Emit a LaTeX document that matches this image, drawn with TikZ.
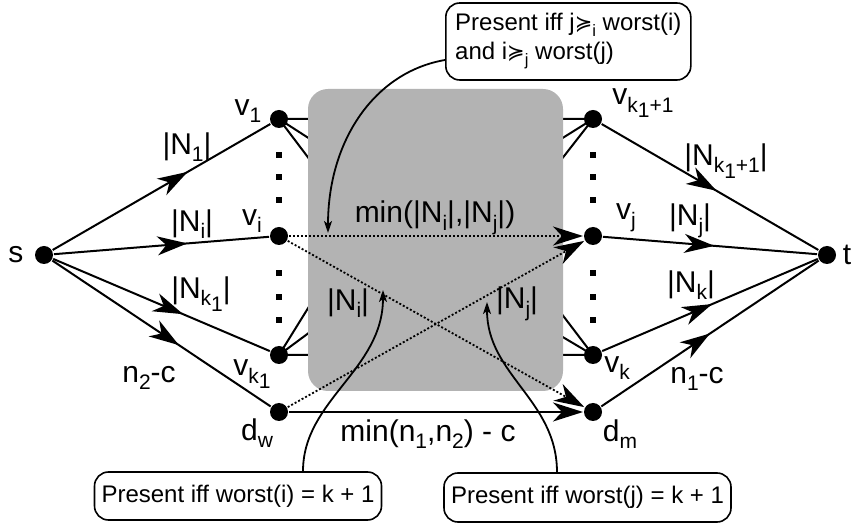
\documentclass[tikz,border=0pt]{standalone}
\usepackage{fontspec}
\setmainfont{Liberation Sans}
\newfontfamily\symfont{DejaVu Sans}
\usetikzlibrary{arrows.meta,decorations.markings}
\definecolor{boxgray}{RGB}{179,179,179}
\newcommand{\sub}[1]{\raisebox{-0.25em}{\fontsize{21}{21}\selectfont #1}}
\newcommand{\csub}[1]{\raisebox{-0.25em}{\fontsize{16.5}{16.5}\selectfont #1}}
\newcommand{\pref}{{\symfont\fontsize{21}{21}\selectfont ≽}}
\begin{document}
\begin{tikzpicture}[x=1pt,y=-1pt,line width=2pt,
  dot/.style={circle,fill=black,inner sep=0pt,minimum size=18pt},
  sq/.style={rectangle,fill=black,inner sep=0pt,minimum size=6pt},
  lbl/.style={font=\fontsize{30}{33}\selectfont,inner sep=0pt},
  call/.style={draw,rounded corners=14pt,line width=1.6pt,font=\fontsize{24}{29}\selectfont,align=left,inner xsep=7pt},
  bigtip/.style={-{Stealth[length=30pt,width=19pt,inset=9pt]}},
  dots/.style={line width=1.8pt,dash pattern=on 2pt off 2pt},
  midarrow/.style={postaction={decorate},decoration={markings,mark=at position #1 with {\arrow{Stealth[length=30pt,width=19pt,inset=9pt]}}}},
  conn/.style={line width=1.8pt,-{Stealth[length=12pt,width=8pt,inset=3pt]}}]
\useasboundingbox (0,0) rectangle (855,526);

% vertices
\node[dot] (s) at (44,255) {};
\node[dot] (v1) at (279,119) {};
\node[dot] (vi) at (279,236) {};
\node[dot] (vk1) at (279,355) {};
\node[dot] (dw) at (279,412) {};
\node[dot] (vk1p) at (593,119) {};
\node[dot] (vj) at (593,236) {};
\node[dot] (vk) at (593,355) {};
\node[dot] (dm) at (593,412) {};
\node[dot] (t) at (827,255) {};

% stubs going under the grey box
\coordinate (a1) at (310,119);
\coordinate (a2) at (310,139);
\coordinate (a3) at (310,160);
\coordinate (b1) at (310,355);
\coordinate (b2) at (310,332);
\coordinate (b3) at (310,305);
\coordinate (c1) at (561,119);
\coordinate (c2) at (561,139);
\coordinate (c3) at (561,160);
\coordinate (e1) at (561,355);
\coordinate (e2) at (561,336);
\coordinate (e3) at (561,313);
\draw (v1.center) -- (a1) (v1.center) -- (a2) (v1.center) -- (a3);
\draw (vk1.center) -- (b1) (vk1.center) -- (b2) (vk1.center) -- (b3);
\draw (vk1p.center) -- (c1) (vk1p.center) -- (c2) (vk1p.center) -- (c3);
\draw (vk.center) -- (e1) (vk.center) -- (e2) (vk.center) -- (e3);

% grey box
\node[fill=boxgray,rounded corners=20pt,minimum width=255pt,minimum height=302pt,inner sep=0pt] (box) at (435.5,240) {};

% vertical dots
\foreach \yy [count=\n] in {155,177,200,273,297,320}{
  \node[sq] (l\n) at (279,\yy) {};
  \node[sq] (r\n) at (593,\yy) {};
}

% edges from s and to t
\draw[midarrow=0.62] (s) -- (v1);
\draw[midarrow=0.62] (s) -- (vi);
\draw[midarrow=0.6] (s) -- (vk1);
\draw[midarrow=0.58] (s) -- (dw);
\draw[midarrow=0.53] (vk1p) -- (t);
\draw[midarrow=0.52] (vj) -- (t);
\draw[midarrow=0.51] (vk) -- (t);
\draw[midarrow=0.5] (dm) -- (t);

% cross edges
\draw[dots,bigtip] (vi) -- (vj);
\draw[dots,bigtip] (vi) -- (dm);
\draw[dots,bigtip] (dw) -- (vj);
\draw[bigtip] (dw) -- (dm);

% labels
\node[lbl] (ls) at (16,255) {s};
\node[lbl] (lv1) at (248,111) {v\sub{1}};
\node[lbl] (lN1) at (187,147) {|N\sub{1}|};
\node[lbl] (lNi) at (192,224) {|N\sub{i}|};
\node[lbl] (lvi) at (252,221) {v\sub{i}};
\node[lbl] (lNk1) at (201,294) {|N\sub{k\sub{1}}|};
\node[lbl] (lvk1) at (252,374) {v\sub{k\sub{1}}};
\node[lbl] (ln2) at (149,378) {n\sub{2}-c};
\node[lbl] (ldw) at (257,433) {d\sub{w}};
\node[lbl] (lmin) at (435,218) {min(|N\sub{i}|,|N\sub{j}|)};
\node[lbl] (lNii) at (348,303) {|N\sub{i}|};
\node[lbl] (lNjj) at (517,304) {|N\sub{j}|};
\node[lbl] (lminn) at (428,434) {min(n\sub{1},n\sub{2}) - c};
\node[lbl] (ldm) at (620,434) {d\sub{m}};
\node[lbl] (lvk1p) at (643,103) {v\sub{k\sub{1}+1}};
\node[lbl] (lNk1p) at (726,161) {|N\sub{k\sub{1}+1}|};
\node[lbl] (lvj) at (626,218) {v\sub{j}};
\node[lbl] (lNj) at (690,221) {|N\sub{j}|};
\node[lbl] (lNk) at (691,285) {|N\sub{k}|};
\node[lbl] (lvk) at (617,368) {v\sub{k}};
\node[lbl] (ln1) at (697,379) {n\sub{1}-c};
\node[lbl] (lt) at (847,255) {t};

% callouts
\node[call,minimum height=77pt,minimum width=245pt,anchor=west] (ctop) at (445,41.5)
  {Present iff j\pref\csub{i} worst(i)\\and i\pref\csub{j} worst(j)};
\node[call,minimum width=280pt,minimum height=48pt] (cbl) at (238,496) {Present iff worst(i) = k + 1};
\node[call,minimum width=285pt,minimum height=49pt] (cbr) at (587.5,497.5) {Present iff worst(j) = k + 1};

\coordinate (tTop) at (328,233);
\coordinate (tBL) at (383,290);
\coordinate (tBR) at (487,302);
\draw[conn] ([yshift=-18.5pt]ctop.west) .. controls (375,72) and (328,140) .. (tTop);
\draw[conn] (cbl.north -| 303,0) .. controls (303,400) and (383,370) .. (tBL);
\draw[conn] (cbr.north -| 557,0) .. controls (557,400) and (487,375) .. (tBR);
\end{tikzpicture}
\end{document}
